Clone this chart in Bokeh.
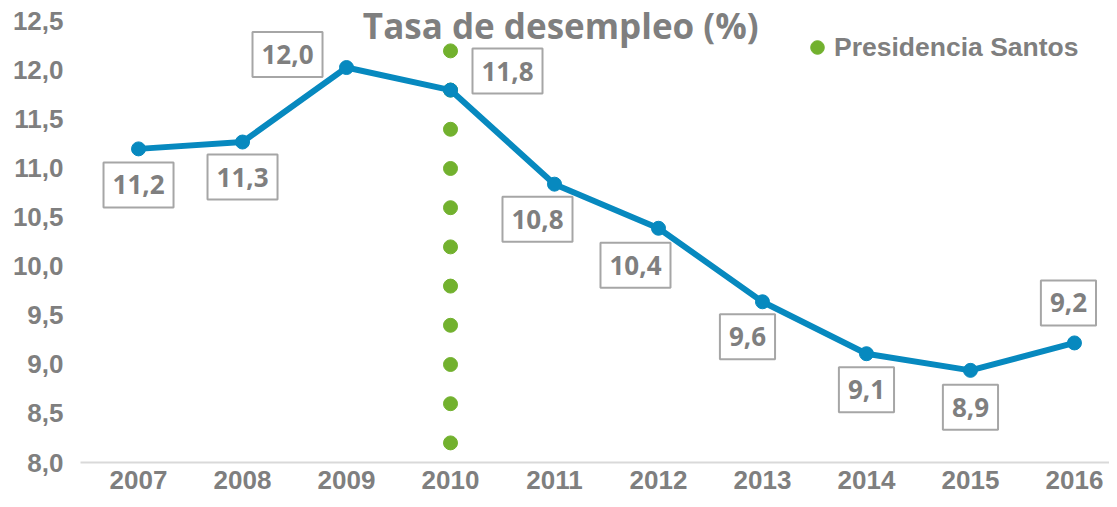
from bokeh.plotting import figure
from bokeh.models import (Range1d, FixedTicker, Label, Legend, LegendItem)
from bokeh.embed import file_html
from bokeh.resources import INLINE

# ---- data ----
years = [2007, 2008, 2009, 2010, 2011, 2012, 2013, 2014, 2015, 2016]
unemployment = [11.20, 11.27, 12.03, 11.80, 10.84, 10.39, 9.64, 9.11, 8.94, 9.22]
santos_year = [2010, 2010, 2010, 2010, 2010, 2010, 2010, 2010, 2010, 2010, 2010]
santos_y = [8.2, 8.6, 9.0, 9.4, 9.8, 10.2, 10.6, 11.0, 11.4, 11.8, 12.2]
y_ticks = [8.0, 8.5, 9.0, 9.5, 10.0, 10.5, 11.0, 11.5, 12.0, 12.5]
y_tick_labels = ["8,0", "8,5", "9,0", "9,5", "10,0", "10,5", "11,0", "11,5", "12,0", "12,5"]
x_tick_labels = ["2007", "2008", "2009", "2010", "2011", "2012", "2013", "2014", "2015", "2016"]
title_text = "Tasa de desempleo (%)"
legend_text = "Presidencia Santos"

# ---- label placement (pixels) ----
label_dx = [0, 0, -59, 57, -17, -23, -15, 0, 0, -6]
label_dy = [-36, -35, 13, 19, -35, -37, -35, -36, -37, 40]

GRAY = "#7f7f7f"
BLUE = "#0789BF"
GREEN = "#72B12E"

Y_END = 12.714

p = figure(width=1109, height=499, output_backend="svg", toolbar_location=None,
           x_range=Range1d(2006.442, 2016.337), y_range=Range1d(8.0, Y_END),
           min_border_left=80, min_border_right=0, min_border_top=0, min_border_bottom=37)
p.outline_line_color = None
p.xgrid.visible = False
p.ygrid.visible = False
p.background_fill_color = "white"

# axes
p.yaxis.ticker = FixedTicker(ticks=y_ticks)
p.yaxis.major_label_overrides = {t: l for t, l in zip(y_ticks, y_tick_labels)}
p.yaxis.axis_line_color = None
p.yaxis.major_tick_line_color = None
p.yaxis.minor_tick_line_color = None
p.yaxis.major_tick_out = 0
p.yaxis.major_label_standoff = 17
p.yaxis.major_label_text_font = "Liberation Sans"
p.yaxis.major_label_text_font_style = "bold"
p.yaxis.major_label_text_font_size = "26px"
p.yaxis.major_label_text_color = GRAY

p.xaxis.ticker = FixedTicker(ticks=years)
p.xaxis.major_label_overrides = {y: l for y, l in zip(years, x_tick_labels)}
p.xaxis.axis_line_color = "#d9d9d9"
p.xaxis.axis_line_width = 2
p.xaxis.major_tick_line_color = None
p.xaxis.minor_tick_line_color = None
p.xaxis.major_tick_out = 0
p.xaxis.major_label_standoff = 8
p.xaxis.major_label_text_font = "Liberation Sans"
p.xaxis.major_label_text_font_style = "bold"
p.xaxis.major_label_text_font_size = "26px"
p.xaxis.major_label_text_color = GRAY

# Santos dotted marker line
dots = p.scatter(santos_year, santos_y, size=14, color=GREEN)

# main series
p.line(years, unemployment, line_width=6, color=BLUE)
p.scatter(years, unemployment, size=14, color=BLUE)

# data labels
for yr, v, dx, dy in zip(years, unemployment, label_dx, label_dy):
    p.add_layout(Label(x=yr, y=v, x_offset=dx, y_offset=dy,
                       text=f"{v:.1f}".replace(".", ","),
                       text_align="center", text_baseline="middle",
                       text_font="Open Sans", text_font_style="bold",
                       text_font_size="26px", text_color=GRAY,
                       background_fill_color="white",
                       border_line_color="#a6a6a6", border_line_width=2,
                       padding=dict(left=9, right=9, top=13, bottom=13)))

# title
p.add_layout(Label(x=2011.06, y=Y_END, y_offset=-1, text=title_text, text_align="center",
                   text_baseline="top", text_font="Open Sans",
                   text_font_style="bold", text_font_size="35px", text_color=GRAY))

legend = Legend(items=[LegendItem(label=legend_text, renderers=[dots])],
                location=(720, 396), orientation="vertical",
                glyph_width=34, glyph_height=38, label_standoff=0,
                padding=0, margin=0, spacing=0,
                border_line_color=None, background_fill_alpha=0,
                label_text_font="Liberation Sans", label_text_font_style="bold",
                label_text_font_size="26.5px", label_text_color=GRAY)
p.add_layout(legend)

open("out.html", "w").write(file_html(p, INLINE))
